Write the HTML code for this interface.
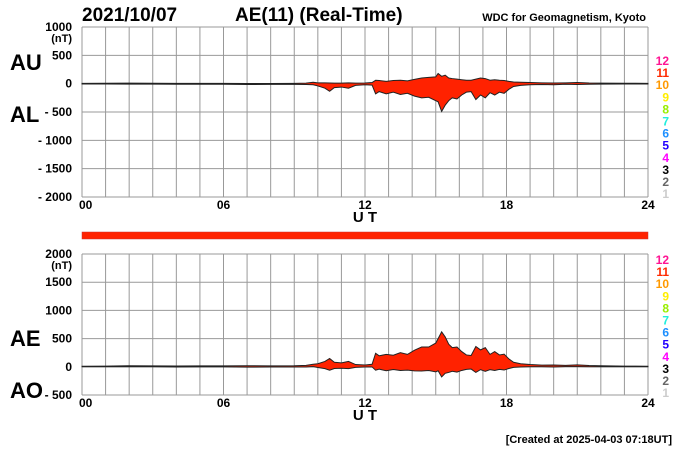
<!DOCTYPE html>
<html><head><meta charset="utf-8"><style>
body{margin:0;background:#fff;width:700px;height:450px;overflow:hidden;font-family:"Liberation Sans",sans-serif}
svg text{font-family:"Liberation Sans",sans-serif}
</style></head><body>
<svg id="c" width="700" height="450"></svg>
<script>
const hours=[0,1,2,3,4,5,6,7,8,9,9.5,9.8,10,10.3,10.5,10.7,11,11.3,11.6,12,12.3,12.45,12.6,12.9,13.2,13.5,13.8,14.1,14.4,14.7,15,15.1,15.25,15.4,15.55,15.7,15.9,16.1,16.3,16.5,16.7,16.9,17.1,17.3,17.5,17.7,17.9,18.1,18.3,18.6,19,19.5,20,20.5,21,21.5,22,23,24];
const au=[5,8,10,8,5,6,6,4,4,6,10,25,15,15,12,10,10,15,10,12,20,60,55,40,55,60,50,75,100,110,120,180,130,150,100,90,80,70,60,60,80,100,90,60,70,60,55,40,30,25,20,15,12,15,20,12,10,8,5];
const al=[-5,-5,-8,-8,-10,-10,-10,-15,-12,-12,-15,-20,-40,-80,-135,-70,-60,-80,-30,-20,-25,-180,-140,-180,-150,-190,-170,-220,-250,-240,-300,-320,-490,-380,-300,-250,-270,-200,-150,-140,-280,-200,-250,-160,-200,-150,-170,-100,-50,-30,-20,-15,-20,-10,-15,-10,-8,-5,-5];
const ae=au.map((v,i)=>v-al[i]);
const ao=au.map((v,i)=>(v+al[i])/2);
const yTicks1=[1000,500,0,-500,-1000,-1500,-2000];
const yTicks2=[2000,1500,1000,500,0,-500];
const xTicks=["00","06","12","18","24"];
const nums=["12","11","10","9","8","7","6","5","4","3","2","1"];
const numColors=["#ff1493","#ff2a00","#ff9900","#ffee00","#99ee00","#22eedd","#1e90ff","#2200ff","#ff00ff","#000","#666","#ccc"];

const S=document.getElementById('c'),NS="http://www.w3.org/2000/svg";
function el(t,a,p){const e=document.createElementNS(NS,t);for(const k in a)e.setAttribute(k,a[k]);(p||S).appendChild(e);return e;}
function txt(x,y,s,a){const e=el('text',Object.assign({x:x,y:y},a));e.textContent=s;return e;}
const X0=82,X1=648;
const xs=h=>X0+(X1-X0)*h/24;
function panel(name,top,bot,vmax,vmin,ticks,upper,lower,lab1,lab2,numTop){
 const ys=v=>top+(vmax-v)/(vmax-vmin)*(bot-top);
 const g=el('g',{});
 
 
 for(let h=0;h<=24;h++){const l=el('line',{x1:xs(h),x2:xs(h),y1:top,y2:bot,stroke:'#999','stroke-width':1},g);}
 ticks.forEach(v=>{const l=el('line',{x1:X0,x2:X1,y1:ys(v),y2:ys(v),stroke:'#999','stroke-width':1},g);
  const t=txt(72,ys(v)+4,(v<0?'- '+(-v):String(v)),{'font-size':12,'font-weight':'bold','text-anchor':'end'});});
 const u=txt(72,top+15,'(nT)',{'font-size':11,'font-weight':'bold','text-anchor':'end'});
 let d='M'+hours.map((h,i)=>xs(h)+','+ys(upper[i])).join('L');
 for(let i=hours.length-1;i>=0;i--)d+='L'+xs(hours[i])+','+ys(lower[i]);
 const a=el('path',{d:d+'Z',fill:'#ff2200',stroke:'#222','stroke-width':1},g);
 
 
 xTicks.forEach((s,i)=>{const t=txt(i==0?X0-3:xs(i*6),bot+12,s,{'font-size':12,'font-weight':'bold','text-anchor':i==0?'start':'middle'});});
 const ut=txt(xs(12),bot+25,'U T',{'font-size':15,'font-weight':'bold','text-anchor':'middle'});
 const l1=txt(10,lab1,lab2[0],{'font-size':22,'font-weight':'bold'});
 
 const l2=txt(10,lab1+52,lab2[1],{'font-size':22,'font-weight':'bold'});
 
 nums.forEach((n,i)=>{const t=txt(669,numTop+i*12.1,n,{'font-size':12,'font-weight':'bold','text-anchor':'end',fill:numColors[i]});});
}
panel('au-al',27,197,1000,-2000,yTicks1,au,al,70,['AU','AL'],65);
panel('ae-ao',254,395,2000,-500,yTicks2,ae,ao,346,['AE','AO'],264);
const bar=el('rect',{x:82,y:232,width:566,height:7,fill:'#ff2200',stroke:'#c33','stroke-width':0.5});

let t=txt(82,21,'2021/10/07',{'font-size':19,'font-weight':'bold'});
t=txt(235,21,'AE(11) (Real-Time)',{'font-size':19,'font-weight':'bold'});
t=txt(646,21,'WDC for Geomagnetism, Kyoto',{'font-size':11,'font-weight':'bold','text-anchor':'end'});
t=txt(672,443,'[Created at 2025-04-03 07:18UT]',{'font-size':11,'font-weight':'bold','text-anchor':'end'});
</script>
</body></html>
